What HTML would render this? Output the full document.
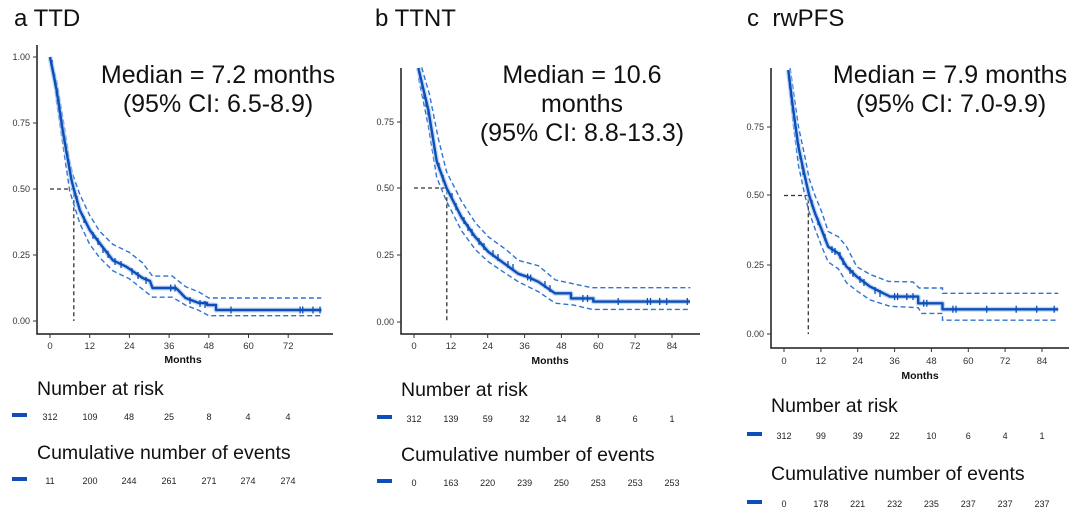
<!DOCTYPE html>
<html>
<head>
<meta charset="utf-8">
<style>
html,body{margin:0;padding:0;background:#fff;}
svg{display:block;}
text{font-family:"Liberation Sans",Arial,sans-serif;}
.tl{font-size:24px;fill:#111;}
.md{font-size:25px;fill:#111;text-anchor:middle;}
.yt{font-size:9px;fill:#333;text-anchor:end;}
.xt{font-size:9.5px;fill:#333;text-anchor:middle;}
.mo{font-size:10.5px;font-weight:bold;fill:#111;text-anchor:middle;}
.hd{font-size:19.5px;fill:#111;}
.nm{font-size:9px;fill:#222;text-anchor:middle;}
.ax{stroke:#1a1a1a;stroke-width:1.5;fill:none;}
.tk{stroke:#333;stroke-width:1;fill:none;}
.halo{stroke:#a9c6ef;stroke-width:5;fill:none;opacity:0.7;stroke-linejoin:round;}
.main{stroke:#0d4fb8;stroke-width:2.4;fill:none;stroke-linejoin:round;}
.ci{stroke:#2f74d0;stroke-width:1.4;fill:none;stroke-dasharray:5,3;}
.med{stroke:#333;stroke-width:1.3;fill:none;stroke-dasharray:4,3;}
.cen{stroke:#0d4fb8;stroke-width:1.3;fill:none;}
.bar{fill:#0d4fb8;}
</style>
</head>
<body>
<svg width="1080" height="512" viewBox="0 0 1080 512" xmlns="http://www.w3.org/2000/svg">
<rect width="1080" height="512" fill="#fff"/>

<!-- ================= Panel a ================= -->
<text class="tl" x="14" y="26">a TTD</text>
<path class="ax" d="M37,45 V334 H333"/>
<path class="tk" d="M33,57H37 M33,123H37 M33,189H37 M33,255H37 M33,321H37"/>
<path class="tk" d="M50,334V338 M89.7,334V338 M129.4,334V338 M169.1,334V338 M208.8,334V338 M248.5,334V338 M288.2,334V338"/>
<text class="yt" x="30" y="60">1.00</text>
<text class="yt" x="30" y="126">0.75</text>
<text class="yt" x="30" y="192">0.50</text>
<text class="yt" x="30" y="258">0.25</text>
<text class="yt" x="30" y="324">0.00</text>
<text class="xt" x="50" y="349">0</text>
<text class="xt" x="89.7" y="349">12</text>
<text class="xt" x="129.4" y="349">24</text>
<text class="xt" x="169.1" y="349">36</text>
<text class="xt" x="208.8" y="349">48</text>
<text class="xt" x="248.5" y="349">60</text>
<text class="xt" x="288.2" y="349">72</text>
<text class="mo" x="183" y="363">Months</text>

<path class="med" d="M50,189 H73.8 V321"/>
<path class="ci" d="M50,57 L56.6,80.8 L63.2,120.4 L69.8,162.6 L73.2,175.8 L79.8,194.3 L89.7,215.4 L99.6,231.2 L112.9,244.4 L129.4,252.4 L142.6,262.9 L152.5,276.1 L172.4,276.1 L185.6,286.7 L198.9,292 L208.8,298 L321.3,298"/>
<path class="ci" d="M53.3,67.6 L56.6,101.9 L63.2,146.8 L69.8,191.6 L73.2,202.2 L79.8,223.3 L89.7,244.4 L99.6,257.6 L112.9,270.8 L129.4,278.8 L142.6,289.3 L152.5,297.2 L172.4,297.2 L185.6,305.2 L198.9,310.4 L208.8,315.7 L321.3,315.7"/>
<path class="halo" d="M50,57 L56.6,90 L63.2,133.6 L71.5,180 L73.8,189 L79.8,210.1 L89.7,229.9 L99.6,243.1 L112.9,260.3 L126.1,266.6 L142.6,278 L150,281 L152.5,288 H175.7 L178,290 L185.6,298 L198.9,303 H207 V305 H216 V310 H321.5"/>
<path class="main" d="M50,57 L56.6,90 L63.2,133.6 L71.5,180 L73.8,189 L79.8,210.1 L89.7,229.9 L99.6,243.1 L112.9,260.3 L126.1,266.6 L142.6,278 L150,281 L152.5,288 H175.7 L178,290 L185.6,298 L198.9,303 H207 V305 H216 V310 H321.5"/>
<path class="cen" d="M231,306.5v7 M300.1,306.5v7 M302.7,306.5v7 M313,306.5v7 M320,306.5v7 M170.7,284.5v7 M175,284.5v7 M52,60v7 M55,78v7 M57,90v7 M59,100v7 M61,115v7 M64,133v7 M66,147v7 M69,163v7 M77,196v7 M84,216v7 M93,232v7 M98,238v7 M103,246v7 M108,251v7 M115,258v7 M121,261v7 M132,268v7 M138,272v7 M146,277v7 M190,297v7 M200,300v7 M205,301v7"/>

<text class="md" x="218" y="83">Median = 7.2 months</text>
<text class="md" x="218" y="112">(95% CI: 6.5-8.9)</text>

<text class="hd" x="37" y="395">Number at risk</text>
<rect class="bar" x="12" y="413" width="15" height="4"/>
<text class="nm" x="50" y="420">312</text>
<text class="nm" x="90" y="420">109</text>
<text class="nm" x="129" y="420">48</text>
<text class="nm" x="169" y="420">25</text>
<text class="nm" x="209" y="420">8</text>
<text class="nm" x="248" y="420">4</text>
<text class="nm" x="288" y="420">4</text>
<text class="hd" x="37" y="459">Cumulative number of events</text>
<rect class="bar" x="12" y="477" width="15" height="4"/>
<text class="nm" x="50" y="484">11</text>
<text class="nm" x="90" y="484">200</text>
<text class="nm" x="129" y="484">244</text>
<text class="nm" x="169" y="484">261</text>
<text class="nm" x="209" y="484">271</text>
<text class="nm" x="248" y="484">274</text>
<text class="nm" x="288" y="484">274</text>

<!-- ================= Panel b ================= -->
<text class="tl" x="375" y="26">b TTNT</text>
<path class="ax" d="M401,68 V334 H700"/>
<path class="tk" d="M397,122H401 M397,188H401 M397,255H401 M397,322H401"/>
<path class="tk" d="M414,334V338 M450.9,334V338 M487.7,334V338 M524.6,334V338 M561.4,334V338 M598.3,334V338 M635.1,334V338 M672,334V338"/>
<text class="yt" x="394" y="125">0.75</text>
<text class="yt" x="394" y="191">0.50</text>
<text class="yt" x="394" y="258">0.25</text>
<text class="yt" x="394" y="325">0.00</text>
<text class="xt" x="414" y="349">0</text>
<text class="xt" x="450.9" y="349">12</text>
<text class="xt" x="487.7" y="349">24</text>
<text class="xt" x="524.6" y="349">36</text>
<text class="xt" x="561.4" y="349">48</text>
<text class="xt" x="598.3" y="349">60</text>
<text class="xt" x="635.1" y="349">72</text>
<text class="xt" x="672" y="349">84</text>
<text class="mo" x="550" y="364">Months</text>

<path class="med" d="M414,188 H446.8 V322"/>
<path class="ci" d="M421.7,67.4 L429.4,94.2 L438.6,139.8 L446.6,171.9 L461.6,201.4 L475.4,222.8 L488.3,236.8 L506.1,249.6 L518.4,260.4 L538.4,265.7 L555.3,279.9 L573.7,283.9 L592.1,287.7 L690.4,287.7"/>
<path class="ci" d="M418.6,78.1 L428.4,126.4 L436.7,177.3 L446.6,201.4 L461.6,230.9 L475.4,249.6 L488.3,261.7 L506.1,273.8 L518.4,281.8 L538.4,291.7 L555.3,303.2 L573.7,305.1 L592.1,309.4 L690.4,309.4"/>
<path class="halo" d="M418.3,68 L428.4,110.3 L436.7,161.2 L446.6,188 L461.6,217.5 L475.1,236.8 L488.3,251.8 L501.8,261.7 L518.4,273.8 L528,277 L538.4,281.8 L555,293.3 H571 V298.4 H593.3 V301.6 H690"/>
<path class="main" d="M418.3,68 L428.4,110.3 L436.7,161.2 L446.6,188 L461.6,217.5 L475.1,236.8 L488.3,251.8 L501.8,261.7 L518.4,273.8 L528,277 L538.4,281.8 L555,293.3 H571 V298.4 H593.3 V301.6 H690"/>
<path class="cen" d="M618.2,298v7 M647.4,298v7 M650.5,298v7 M659.7,298v7 M666.7,298v7 M687.3,298v7 M582.9,295v7 M587.5,295v7 M527.6,273.5v7 M530.7,274.5v7 M420,72v7 M422,82v7 M424,92v7 M426,100v7 M428,108v7 M430,118v7 M432,130v7 M434,142v7 M439,163v7 M443,175v7 M452,193v7 M456,203v7 M464,217v7 M468,224v7 M472,229v7 M479,238v7 M484,243v7 M493,250v7 M498,254v7 M508,261v7 M513,264v7 M545,281v7 M550,285v7"/>

<text class="md" x="582" y="83">Median = 10.6</text>
<text class="md" x="582" y="112">months</text>
<text class="md" x="582" y="141">(95% CI: 8.8-13.3)</text>

<text class="hd" x="401" y="396">Number at risk</text>
<rect class="bar" x="377" y="415" width="15" height="4"/>
<text class="nm" x="414" y="422">312</text>
<text class="nm" x="450.9" y="422">139</text>
<text class="nm" x="487.7" y="422">59</text>
<text class="nm" x="524.6" y="422">32</text>
<text class="nm" x="561.4" y="422">14</text>
<text class="nm" x="598.3" y="422">8</text>
<text class="nm" x="635.1" y="422">6</text>
<text class="nm" x="672" y="422">1</text>
<text class="hd" x="401" y="461">Cumulative number of events</text>
<rect class="bar" x="377" y="479" width="15" height="4"/>
<text class="nm" x="414" y="486">0</text>
<text class="nm" x="450.9" y="486">163</text>
<text class="nm" x="487.7" y="486">220</text>
<text class="nm" x="524.6" y="486">239</text>
<text class="nm" x="561.4" y="486">250</text>
<text class="nm" x="598.3" y="486">253</text>
<text class="nm" x="635.1" y="486">253</text>
<text class="nm" x="672" y="486">253</text>

<!-- ================= Panel c ================= -->
<text class="tl" x="747" y="26">c&#160;&#160;rwPFS</text>
<path class="ax" d="M771,68 V348 H1069"/>
<path class="tk" d="M767,127H771 M767,195H771 M767,265H771 M767,334H771"/>
<path class="tk" d="M784,348V352 M820.9,348V352 M857.7,348V352 M894.6,348V352 M931.4,348V352 M968.3,348V352 M1005.1,348V352 M1042,348V352"/>
<text class="yt" x="764" y="130">0.75</text>
<text class="yt" x="764" y="198">0.50</text>
<text class="yt" x="764" y="268">0.25</text>
<text class="yt" x="764" y="337">0.00</text>
<text class="xt" x="784" y="364">0</text>
<text class="xt" x="820.9" y="364">12</text>
<text class="xt" x="857.7" y="364">24</text>
<text class="xt" x="894.6" y="364">36</text>
<text class="xt" x="931.4" y="364">48</text>
<text class="xt" x="968.3" y="364">60</text>
<text class="xt" x="1005.1" y="364">72</text>
<text class="xt" x="1042" y="364">84</text>
<text class="mo" x="920" y="379">Months</text>

<path class="med" d="M784,195.5 H808.3 V334"/>
<path class="ci" d="M790.1,68.1 L798.4,126.3 L804.9,156.7 L809.2,178.9 L815,195.5 L821.8,212.1 L828.2,231.5 L838.4,236.8 L846.6,246.7 L856.8,266.7 L870,274.4 L888.4,281.4 L913,282 L919.1,288 L942.5,288 L942.5,293.3 L1058.2,293.3"/>
<path class="ci" d="M788.3,76.4 L793.2,123.5 L798.4,165 L804.9,195.5 L809.2,212.1 L815,228.7 L821.8,246.7 L828.2,262 L838.4,268.9 L846.6,282.8 L856.8,290.8 L870,299.9 L890,306.3 L918.2,307.7 L921.6,313.4 L942.5,313.4 L942.5,320.2 L1058.2,320.2"/>
<path class="halo" d="M788.3,70 L793.2,109.6 L798.4,146.7 L804.9,176.7 L809.2,195.5 L815,213.2 L821.8,230.1 L828.2,246.7 L838.4,253.4 L846.6,266.7 L856.8,276.7 L870,286.6 L890,296.6 H918.2 V303.3 H942.5 V309.3 H1058.2"/>
<path class="main" d="M788.3,70 L793.2,109.6 L798.4,146.7 L804.9,176.7 L809.2,195.5 L815,213.2 L821.8,230.1 L828.2,246.7 L838.4,253.4 L846.6,266.7 L856.8,276.7 L870,286.6 L890,296.6 H918.2 V303.3 H942.5 V309.3 H1058.2"/>
<path class="cen" d="M952.9,305.8v7 M956,305.8v7 M986.7,305.8v7 M1016.2,305.8v7 M1036.7,305.8v7 M1054.2,305.8v7 M923.7,299.8v7 M926.8,299.8v7 M894.6,293.1v7 M897.6,293.1v7 M906.8,293.1v7 M913,293.1v7 M789,74v7 M790,82v7 M791,90v7 M792,98v7 M794,110v7 M795,118v7 M796,126v7 M797,134v7 M799,144v7 M800,152v7 M802,162v7 M803,168v7 M806,178v7 M812,200v7 M818,218v7 M825,234v7 M832,246v7 M835,248v7 M840,252v7 M843,258v7 M850,267v7 M853,270v7 M860,276v7 M864,279v7 M875,287v7 M880,290v7"/>

<text class="md" x="950" y="83">Median = 7.9 months</text>
<text class="md" x="951" y="112">(95% CI: 7.0-9.9)</text>

<text class="hd" x="771" y="412">Number at risk</text>
<rect class="bar" x="747" y="432" width="15" height="4"/>
<text class="nm" x="784" y="439">312</text>
<text class="nm" x="820.9" y="439">99</text>
<text class="nm" x="857.7" y="439">39</text>
<text class="nm" x="894.6" y="439">22</text>
<text class="nm" x="931.4" y="439">10</text>
<text class="nm" x="968.3" y="439">6</text>
<text class="nm" x="1005.1" y="439">4</text>
<text class="nm" x="1042" y="439">1</text>
<text class="hd" x="771" y="480">Cumulative number of events</text>
<rect class="bar" x="747" y="500" width="15" height="4"/>
<text class="nm" x="784" y="507">0</text>
<text class="nm" x="820.9" y="507">178</text>
<text class="nm" x="857.7" y="507">221</text>
<text class="nm" x="894.6" y="507">232</text>
<text class="nm" x="931.4" y="507">235</text>
<text class="nm" x="968.3" y="507">237</text>
<text class="nm" x="1005.1" y="507">237</text>
<text class="nm" x="1042" y="507">237</text>
</svg>
</body>
</html>
